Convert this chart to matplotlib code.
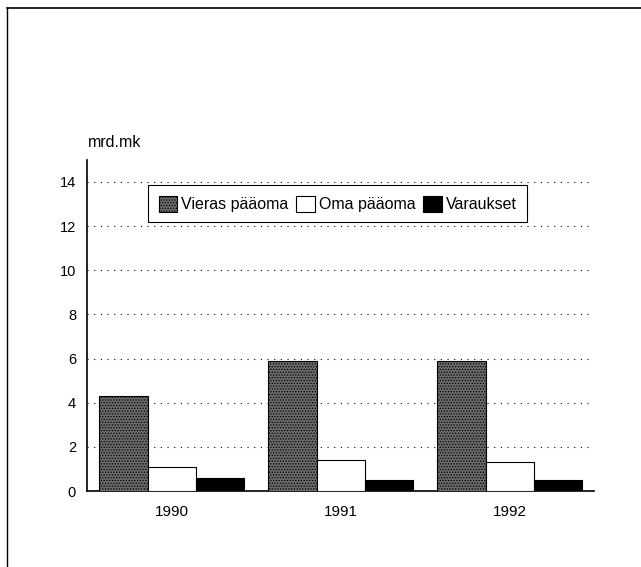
import numpy as np
import matplotlib
matplotlib.use('Agg')
import matplotlib.pyplot as plt
from matplotlib.lines import Line2D

plt.rcParams['font.family'] = ['Liberation Sans', 'DejaVu Sans']
plt.rcParams['hatch.linewidth'] = 0.6

# Data (mrd.mk)
years = ['1990', '1991', '1992']
series = ['Vieras pääoma', 'Oma pääoma', 'Varaukset']
vieras = [4.3, 5.9, 5.9]
oma = [1.1, 1.4, 1.3]
varaukset = [0.6, 0.5, 0.5]
yticks = [0, 2, 4, 6, 8, 10, 12, 14]

fig = plt.figure(figsize=(6.41, 5.67), dpi=100)
ax = fig.add_axes([0.136, 0.134, 0.791, 0.584])

x = np.arange(len(years))
w = 0.285
ax.bar(x - w, vieras, w, facecolor='#6a6a6a', edgecolor='black', hatch='......',
       linewidth=0.8, label=series[0], zorder=3)
ax.bar(x, oma, w, facecolor='white', edgecolor='black', linewidth=0.8,
       label=series[1], zorder=3)
ax.bar(x + w, varaukset, w, facecolor='black', edgecolor='black', linewidth=0.8,
       label=series[2], zorder=3)

ax.set_xlim(-0.5, 2.5)
ax.set_ylim(0, 15)
ax.set_yticks(yticks)
ax.set_yticklabels([str(t) for t in yticks], fontsize=10.5)
ax.set_xticks(x)
ax.set_xticklabels(years, fontsize=11)
ax.tick_params(axis='both', length=0, pad=8)
ax.tick_params(axis='x', pad=10)

for s in ['top', 'right']:
    ax.spines[s].set_visible(False)
for s in ['left', 'bottom']:
    ax.spines[s].set_linewidth(1.2)

ax.yaxis.grid(True, linestyle=(0, (1, 5)), color='black', linewidth=0.8, zorder=0)
ax.set_axisbelow(True)

leg = ax.legend(loc='center', bbox_to_anchor=(0.494, 0.867), ncol=3, fontsize=11.5,
                frameon=True, fancybox=False, edgecolor='black', framealpha=1,
                handlelength=1.15, handleheight=1.15, handletextpad=0.25,
                columnspacing=0.5, borderpad=0.65, borderaxespad=0)
leg.get_frame().set_linewidth(0.8)

fig.text(0.137, 0.748, 'mrd.mk', fontsize=11.5, ha='left', va='center')

# page border (top and left)
fig.add_artist(Line2D([0.011, 1.0], [0.986, 0.986], color='black', linewidth=1.2))
fig.add_artist(Line2D([0.011, 0.011], [0.0, 0.986], color='black', linewidth=1.0))

fig.savefig('out.png', dpi=100)
